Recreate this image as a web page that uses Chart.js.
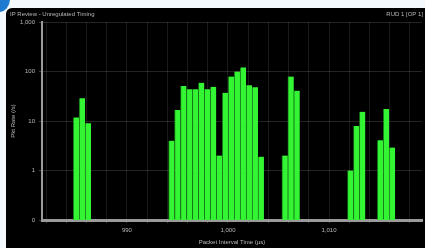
<!DOCTYPE html>
<html>
<head>
<meta charset="utf-8">
<script src="https://cdn.jsdelivr.net/npm/chart.js@4/dist/chart.umd.min.js"></script>
<style>
  html, body { margin: 0; padding: 0; background: #f3f9fd; width: 425px; height: 248px; overflow: hidden; position: relative; }
  #corner { position: absolute; left: -12px; top: -14px; width: 22px; height: 26px; border-radius: 50%; background: #1f7bd0; }
  #panel { position: absolute; left: 6px; top: 8px; width: 419px; height: 240px; background: #000; border-top-left-radius: 6px; }
  #chart { position: absolute; left: 0; top: 0; }
</style>
</head>
<body>
<div id="corner"></div>
<div id="panel"><canvas id="chart" width="419" height="240"></canvas></div>
<script>
// ---- data ----
const chartTitle = "IP Review - Unregulated Timing";
const chartTag = "RUD 1 [OP 1]";
const xAxisTitle = "Packet Interval Time (µs)";
const yAxisTitle = "Pkt Rate (/s)";

// bin centres (µs)
const binCenters = [
  984.975, 985.565, 986.155,
  994.415, 995.005, 995.595, 996.185, 996.775, 997.365, 997.955, 998.545,
  999.135, 999.725, 1000.315, 1000.905, 1001.495, 1002.085, 1002.675, 1003.265,
  1005.625, 1006.215, 1006.805,
  1012.115, 1012.705, 1013.295,
  1015.065, 1015.655, 1016.245
];
// packet rate per bin (/s)
const packetRates = [
  11.8, 28.7, 9,
  4, 16.6, 51, 44, 44, 59, 44, 49,
  2.0, 37, 79, 100, 121, 53, 48, 1.9,
  2.0, 79, 41,
  1.0, 7.9, 15.4,
  4.1, 17.5, 2.9
];

const yTickValues = [0.1, 1, 10, 100, 1000];
const yTickLabels = ["0", "1", "10", "100", "1,000"];
const xTickLabelValues = [990, 1000, 1010];
const xTickLabels = ["990", "1,000", "1,010"];

const TEXT = '#b8b8b8';
const FONT = "'Liberation Sans', Arial, sans-serif";

const headerPlugin = {
  id: 'header',
  afterDraw(chart) {
    const ctx = chart.ctx;
    ctx.save();
    ctx.fillStyle = TEXT;
    ctx.font = "6px " + FONT;
    ctx.textBaseline = 'middle';
    ctx.textAlign = 'left';
    ctx.fillText(chartTitle, 4, 6);
    ctx.textAlign = 'right';
    ctx.fillText(chartTag, 417, 6);
    ctx.restore();
  }
};

const points = binCenters.map((x, i) => ({ x: x, y: packetRates[i] }));

new Chart(document.getElementById('chart'), {
  type: 'bar',
  data: {
    datasets: [{
      data: points,
      backgroundColor: '#33f533',
      borderColor: 'rgba(30,170,30,0.6)',
      borderWidth: { left: 1, right: 0, top: 0, bottom: 0 },
      borderSkipped: false,
      barPercentage: 1,
      categoryPercentage: 1
    }]
  },
  options: {
    responsive: false,
    animation: false,
    devicePixelRatio: 1,
    layout: { padding: { left: 0, right: 3, top: 14, bottom: 0 } },
    plugins: { legend: { display: false }, tooltip: { enabled: false }, title: { display: false } },
    scales: {
      x: {
        type: 'linear',
        offset: false,
        min: 981.6,
        max: 1019.2,
        afterBuildTicks(scale) {
          const t = [];
          for (let v = 982; v <= 1018; v += 2) t.push({ value: v });
          scale.ticks = t;
        },
        afterFit(scale) { scale.height = 28; },
        grid: { offset: false, color: 'rgba(255,255,255,0.10)', lineWidth: 1, tickLength: 3, tickColor: 'rgba(255,255,255,0.25)' },
        border: { color: '#9a9a9a', width: 3 },
        ticks: {
          color: TEXT,
          font: { size: 6, family: FONT },
          padding: 4,
          maxRotation: 0,
          autoSkip: false,
          callback(v) {
            const k = xTickLabelValues.indexOf(v);
            return k >= 0 ? xTickLabels[k] : '';
          }
        },
        title: { display: true, text: xAxisTitle, color: TEXT, font: { size: 6, family: FONT }, padding: { top: 0, bottom: 2 } }
      },
      y: {
        type: 'logarithmic',
        min: 0.1,
        max: 1000,
        afterBuildTicks(scale) { scale.ticks = yTickValues.map(v => ({ value: v })); },
        afterFit(scale) { scale.width = 36; },
        grid: { color: 'rgba(255,255,255,0.14)', lineWidth: 1, tickLength: 3, tickColor: 'rgba(255,255,255,0.25)' },
        border: { color: '#9a9a9a', width: 2 },
        ticks: {
          color: TEXT,
          font: { size: 6, family: FONT },
          padding: 4,
          autoSkip: false,
          callback(v) {
            const k = yTickValues.indexOf(v);
            return k >= 0 ? yTickLabels[k] : '';
          }
        },
        title: { display: true, text: yAxisTitle, color: TEXT, font: { size: 6, family: FONT }, padding: { top: 4, bottom: 0 } }
      }
    }
  },
  plugins: [headerPlugin]
});
</script>
</body>
</html>
